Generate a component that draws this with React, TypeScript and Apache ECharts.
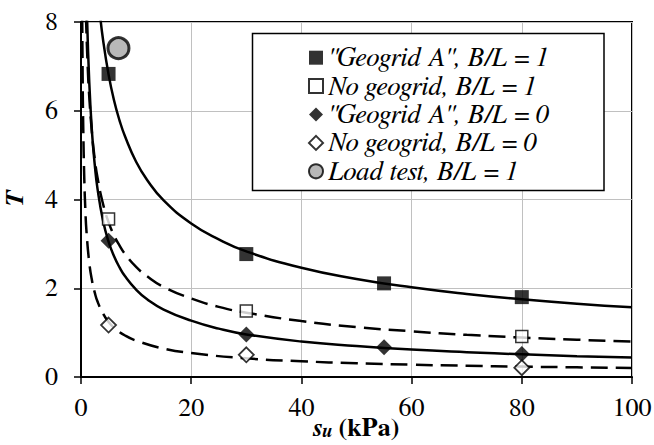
import React, { useEffect, useRef } from "react";
import * as echarts from "echarts";

const FONT = "FreeSerif, Liberation Serif, serif";

// Measured points (s_u in kPa, T)
const suGeogridB1 = [5, 30, 55, 80];
const tGeogridB1 = [6.83, 2.77, 2.11, 1.8];
const suNoGeoB1 = [5, 30, 80];
const tNoGeoB1 = [3.56, 1.49, 0.91];
const suGeogridB0 = [5, 30, 55, 80];
const tGeogridB0 = [3.07, 0.96, 0.67, 0.52];
const suNoGeoB0 = [5, 30, 80];
const tNoGeoB0 = [1.17, 0.5, 0.21];
const loadTest: [number, number][] = [[6.8, 7.41]];

// Curves
const curveGeogridB1: [number, number][] = [
  [3.4, 8.23], [4, 7.6], [5, 6.82], [6, 6.23], [7, 5.78], [8, 5.42], [10, 4.85], [12, 4.44],
  [15, 3.98], [20, 3.46], [25, 3.1], [30, 2.83], [40, 2.46], [50, 2.21], [60, 2.02], [70, 1.87],
  [80, 1.75], [90, 1.65], [100, 1.57],
];
const curveNoGeoB1: [number, number][] = [
  [0.9, 8.12], [1.2, 7.05], [1.5, 6.32], [2, 5.48], [2.5, 4.91], [3, 4.49], [4, 3.9], [5, 3.49],
  [6, 3.19], [7, 2.96], [8, 2.77], [10, 2.48], [12, 2.27], [15, 2.03], [20, 1.77], [25, 1.58],
  [30, 1.45], [40, 1.26], [50, 1.125], [60, 1.03], [70, 0.95], [80, 0.89], [90, 0.84], [100, 0.8],
];
const curveGeogridB0: [number, number][] = [
  [1.1, 8.11], [1.5, 6.64], [2, 5.51], [2.5, 4.78], [3, 4.24], [4, 3.52], [5, 3.05], [6, 2.72],
  [7, 2.47], [8, 2.27], [10, 1.97], [12, 1.75], [15, 1.52], [20, 1.27], [25, 1.09], [30, 0.96],
  [40, 0.8], [50, 0.7], [60, 0.62], [70, 0.56], [80, 0.51], [90, 0.47], [100, 0.44],
];
const curveNoGeoB0: [number, number][] = [
  [0.22, 8.13], [0.3, 6.75], [0.4, 5.68], [0.6, 4.45], [0.8, 3.74], [1, 3.27], [1.5, 2.58],
  [2, 2.17], [2.5, 1.9], [3, 1.7], [4, 1.43], [5, 1.24], [6, 1.11], [8, 0.935], [10, 0.82],
  [15, 0.64], [20, 0.54], [30, 0.42], [40, 0.355], [50, 0.31], [60, 0.278], [70, 0.253],
  [80, 0.234], [90, 0.218], [100, 0.205],
];

const NAME_G1 = '"Geogrid A", B/L = 1';
const NAME_N1 = "No geogrid, B/L = 1";
const NAME_G0 = '"Geogrid A", B/L = 0';
const NAME_N0 = "No geogrid, B/L = 0";
const NAME_LT = "Load test, B/L = 1";

const zip = (xs: number[], ys: number[]) => xs.map((x, i) => [x, ys[i]]);

export default function App() {
  const ref = useRef<HTMLDivElement>(null);
  useEffect(() => {
    if (!ref.current) return;
    const chart = echarts.init(ref.current, null, { renderer: "svg" });
    const lineSeries = (data: [number, number][], dashed: boolean) => ({
      type: "line",
      data,
      showSymbol: false,
      smooth: 0.5,
      silent: true,
      clip: true,
      z: 2,
      lineStyle: { color: "#000", width: 2.5, type: dashed ? [17, 8] : "solid" },
    });
    chart.setOption({
      animation: false,
      grid: {
        left: 81,
        right: 22,
        top: 22,
        bottom: 68,
        show: true,
        borderColor: "#000",
        borderWidth: 2,
        containLabel: false,
        outerBoundsMode: "none",
      },
      xAxis: {
        type: "value",
        min: 0,
        max: 100,
        interval: 20,
        axisLine: { show: true, lineStyle: { color: "#000", width: 2 } },
        axisTick: { show: true, length: 7, lineStyle: { color: "#000", width: 1.5 } },
        axisLabel: { fontFamily: FONT, fontSize: 26, color: "#000", margin: 18 },
        splitLine: { show: true, lineStyle: { color: "#c0c0c0", width: 1 } },
      },
      yAxis: {
        type: "value",
        min: 0,
        max: 8,
        interval: 2,
        axisLine: { show: true, lineStyle: { color: "#000", width: 2 } },
        axisTick: { show: true, length: 7, lineStyle: { color: "#000", width: 1.5 } },
        axisLabel: { fontFamily: FONT, fontSize: 26, color: "#000", margin: 23 },
        splitLine: { show: true, lineStyle: { color: "#c0c0c0", width: 1 } },
        name: "T",
        nameLocation: "middle",
        nameRotate: 90,
        nameGap: 53,
        nameTextStyle: { fontFamily: FONT, fontSize: 26, fontWeight: "bold", fontStyle: "italic", color: "#000" },
      },
      graphic: [
        {
          type: "rect",
          z: 3,
          shape: { x: 252.5, y: 33.5, width: 351.5, height: 157 },
          style: { fill: "#fff", stroke: "#000", lineWidth: 1.5 },
        },
        {
          type: "text",
          z: 5,
          x: 356,
          y: 428,
          style: {
            text: "{s|s}{u|u}{k| (kPa)}",
            align: "center",
            verticalAlign: "middle",
            textAlign: "center",
            textVerticalAlign: "middle",
            fill: "#000",
            rich: {
              s: { fontFamily: FONT, fontSize: 26, fontWeight: "bold", fontStyle: "italic", fill: "#000", lineHeight: 26 },
              u: { fontFamily: FONT, fontSize: 19, fontWeight: "bold", fontStyle: "italic", fill: "#000", lineHeight: 26, verticalAlign: "bottom" },
              k: { fontFamily: FONT, fontSize: 26, fontWeight: "bold", fill: "#000", lineHeight: 26 },
            },
          },
        },
      ],
      legend: {
        orient: "vertical",
        left: 303,
        top: 38.5,
        z: 5,
        itemWidth: 14,
        itemHeight: 14,
        itemGap: 0,
        selectedMode: false,
        textStyle: { fontFamily: FONT, fontSize: 27, fontStyle: "italic", color: "#000", lineHeight: 28.4 },
        data: [NAME_G1, NAME_N1, NAME_G0, NAME_N0, NAME_LT],
      },
      series: [
        lineSeries(curveGeogridB1, false),
        lineSeries(curveNoGeoB1, true),
        lineSeries(curveGeogridB0, false),
        lineSeries(curveNoGeoB0, true),
        { name: NAME_G1, type: "scatter", z: 3, symbol: "rect", symbolSize: 14, data: zip(suGeogridB1, tGeogridB1), itemStyle: { color: "#000" } },
        { name: NAME_N1, type: "scatter", z: 3, symbol: "rect", symbolSize: 12, data: zip(suNoGeoB1, tNoGeoB1), itemStyle: { color: "#fff", borderColor: "#000", borderWidth: 1.5 } },
        { name: NAME_G0, type: "scatter", z: 3, symbol: "diamond", symbolSize: 16, data: zip(suGeogridB0, tGeogridB0), itemStyle: { color: "#000" } },
        { name: NAME_N0, type: "scatter", z: 3, symbol: "diamond", symbolSize: 15, data: zip(suNoGeoB0, tNoGeoB0), itemStyle: { color: "#fff", borderColor: "#000", borderWidth: 1.8 } },
        { name: NAME_LT, type: "scatter", z: 3, symbol: "circle", symbolSize: 21, data: loadTest, itemStyle: { color: "#a6a6a6", borderColor: "#000", borderWidth: 3 } },
      ],
    });
    return () => chart.dispose();
  }, []);
  return (
    <div
      ref={ref}
      style={{ position: "fixed", left: 0, top: 0, width: 654, height: 445, background: "#fff" }}
    />
  );
}
